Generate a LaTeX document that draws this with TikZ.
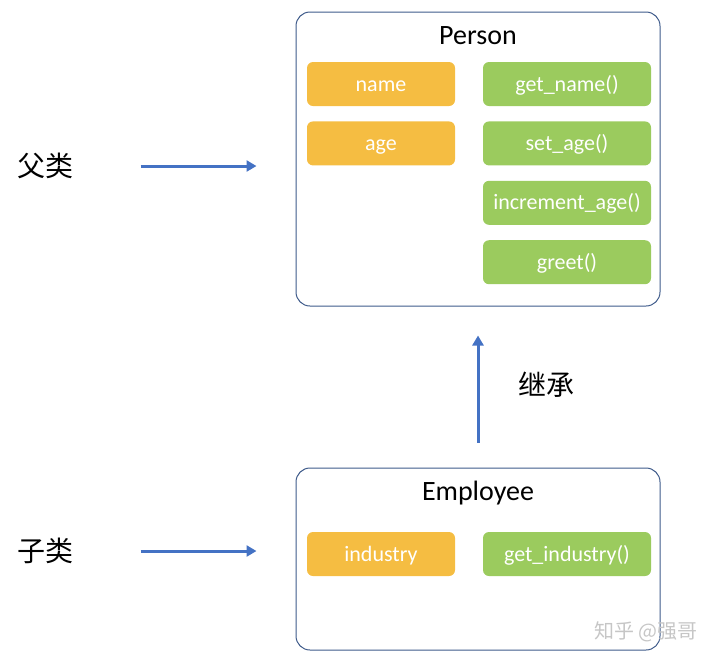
\documentclass[tikz,border=0pt]{standalone}
\usepackage{fontspec}
\setmainfont{Carlito}
\newfontfamily\cjk{Noto Sans CJK SC}
\usepackage{tikz}
\usetikzlibrary{arrows.meta,positioning,calc}
\usepackage{xcolor}
\definecolor{boxblue}{HTML}{3E5A8A}
\definecolor{arrowblue}{HTML}{4472C4}
\definecolor{attrorange}{HTML}{F5BD42}
\definecolor{methodgreen}{HTML}{9BCB5E}

\begin{document}
\begin{tikzpicture}[
    x=1pt, y=-1pt,
    node distance=15pt,
    classbox/.style={rectangle, draw=boxblue, line width=1pt, rounded corners=14pt, minimum width=364pt, inner sep=0pt},
    title/.style={font=\fontsize{28}{30}\selectfont},
    attr/.style={rectangle, fill=attrorange, rounded corners=6pt, minimum width=148pt, minimum height=44pt, inner sep=0pt, text height=16pt, text depth=2pt, text=white, font=\fontsize{22}{24}\selectfont},
    method/.style={rectangle, fill=methodgreen, rounded corners=6pt, minimum width=168pt, minimum height=44pt, inner sep=0pt, text height=16pt, text depth=2pt, text=white, font=\fontsize{22}{24}\selectfont},
    kind/.style={font=\cjk\fontsize{28}{30}\selectfont},
    inherit/.style={draw=arrowblue, line width=3pt, -{Triangle[length=10pt,width=11pt]}}
]
\useasboundingbox (0,0) rectangle (720,665);

% Parent class
\node (person) [classbox, minimum height=294pt] at (478,159) {};
\node (persontitle) [title] at (478,36) {Person};
\node (name) [attr] at (381,84) {name};
\node (age) [attr, below=of name] {age};
\node (getname) [method] at (567,84) {get\_name()};
\node (setage) [method, below=of getname] {set\_age()};
\node (incage) [method, below=of setage] {increment\_age()};
\node (greet) [method, below=of incage] {greet()};

% Child class
\node (employee) [classbox, minimum height=182pt] at (478,559) {};
\node (employeetitle) [title] at (478,493) {Employee};
\node (industry) [attr] at (381,554) {industry};
\node (getindustry) [method] at (567,554) {get\_industry()};

% Labels
\node (parentlbl) [kind] at (45,166) {父类};
\node (childlbl) [kind] at (45,551) {子类};
\node (inheritlbl) [kind] at (546,385) {继承};
\node (watermark) [font=\cjk\fontsize{20}{22}\selectfont, text=gray!45] at (646,632) {知乎 @强哥};

% Connections
\draw[inherit, shorten <=64pt, shorten >=39pt] (parentlbl.east) -- (parentlbl.east -| person.west);
\draw[inherit, shorten <=64pt, shorten >=39pt] (childlbl.east) -- (childlbl.east -| employee.west);
\draw[inherit, shorten <=25pt, shorten >=29pt] (employee.north) -- (person.south);

\end{tikzpicture}
\end{document}
